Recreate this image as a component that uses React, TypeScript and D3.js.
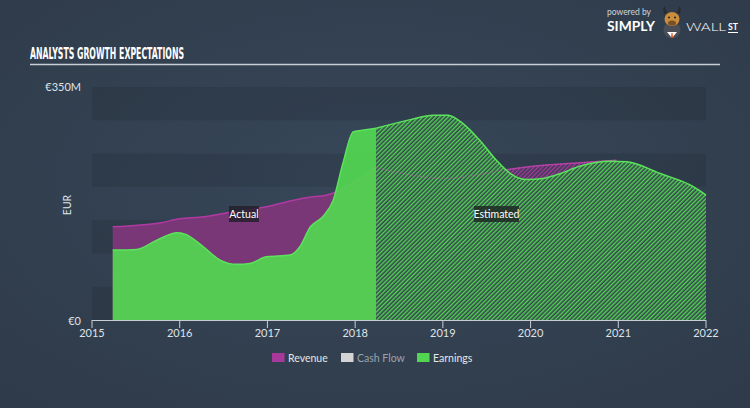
import React from "react";
import * as d3 from "d3";

const W = 750;
const H = 408;

const yearTicks = [2015, 2016, 2017, 2018, 2019, 2020, 2021, 2022];
const bandStarts = [0, 100, 200, 300];

const earnActualYears = [2015.236, 2015.51, 2015.74, 2015.97, 2016.06, 2016.27, 2016.46, 2016.65, 2016.8, 2016.99, 2017.26, 2017.37, 2017.49, 2017.63, 2017.75, 2017.86, 2017.98, 2018.14, 2018.24];
const earnActualVals = [105, 106, 120, 131, 129, 110, 90, 83.6, 85, 95, 97.6, 110, 140, 155, 180, 235, 283, 286, 288];

const earnFcYears = [2018.24, 2018.63, 2018.89, 2019.06, 2019.23, 2019.42, 2019.61, 2019.77, 2019.96, 2020.14, 2020.34, 2020.56, 2020.91, 2021.1, 2021.48, 2021.86, 2022.0];
const earnFcVals = [288, 301, 307.7, 307.7, 295, 270, 240, 220, 211, 212.6, 220, 231, 238.6, 237.6, 220, 200, 187.7];

const revActualYears = [2015.236, 2015.78, 2016.0, 2016.27, 2016.54, 2016.99, 2017.3, 2017.52, 2017.68, 2017.79, 2018.01, 2018.24];
const revActualVals = [140, 146, 152, 155, 161, 170, 180, 185, 187.7, 192.6, 210, 229];

const revFcYears = [2018.24, 2018.63, 2019.0, 2019.39, 2019.69, 2020.03, 2020.53, 2020.98];
const revFcVals = [229, 218, 212.6, 218, 225, 231, 236, 240];

const legendItems = [
  { label: "Revenue", color: "#a8399c", text: "#e6e6e6" },
  { label: "Cash Flow", color: "#d4d4d4", text: "#9aa3ad" },
  { label: "Earnings", color: "#52d652", text: "#e6e6e6" },
];

const x = d3.scaleLinear().domain([2015, 2022]).range([92, 706]);
const y = d3.scaleLinear().domain([0, 350]).range([320, 87]);

type P = [number, number];
const zip = (xs: number[], vs: number[]): P[] => xs.map((v, i) => [v, vs[i]]);

const area = d3
  .area<P>()
  .x((d) => x(d[0]))
  .y0(y(0))
  .y1((d) => y(d[1]))
  .curve(d3.curveMonotoneX);
const line = d3
  .line<P>()
  .x((d) => x(d[0]))
  .y((d) => y(d[1]))
  .curve(d3.curveMonotoneX);

const earnA = zip(earnActualYears, earnActualVals);
const earnF = zip(earnFcYears, earnFcVals);
const revA = zip(revActualYears, revActualVals);
const revF = zip(revFcYears, revFcVals);

const axisFont = "Lato, 'Open Sans', sans-serif";

export default function App() {
  return (
    <svg
      width={W}
      height={H}
      style={{ position: "absolute", left: 0, top: 0, display: "block" }}
    >
      <defs>
        <radialGradient id="bg" cx="50%" cy="45%" r="70%">
          <stop offset="0%" stopColor="#374759" />
          <stop offset="100%" stopColor="#2f3b4a" />
        </radialGradient>
        <pattern id="hatchG" width="3" height="3" patternUnits="userSpaceOnUse" patternTransform="rotate(45)">
          <rect width="3" height="3" fill="#35444f" />
          <rect width="1.4" height="3" fill="#52d652" />
        </pattern>
        <pattern id="hatchM" width="3" height="3" patternUnits="userSpaceOnUse" patternTransform="rotate(45)">
          <rect width="3" height="3" fill="#383c52" />
          <rect width="1.4" height="3" fill="#a8399c" />
        </pattern>
      </defs>
      <rect width={W} height={H} fill="url(#bg)" />

      {/* title */}
      <text
        x={30}
        y={59}
        fill="#ffffff"
        fontFamily="'Liberation Sans Narrow', 'DejaVu Sans Condensed', sans-serif"
        fontWeight="bold"
        fontSize={15}
        textLength={154}
        lengthAdjust="spacingAndGlyphs"
      >
        ANALYSTS GROWTH EXPECTATIONS
      </text>
      <line x1={30} x2={720} y1={64.5} y2={64.5} stroke="#c9ced6" strokeWidth={1.6} />

      {/* logo */}
      <g fontFamily="Lato, 'Open Sans', sans-serif">
        <text x={607} y={15} fill="#cfd4da" fontSize={8.5} textLength={44} lengthAdjust="spacingAndGlyphs">powered by</text>
        <text x={607} y={31} fill="#ffffff" fontSize={12.5} fontWeight="bold" textLength={48} lengthAdjust="spacingAndGlyphs">SIMPLY</text>
        <circle cx={672} cy={30} r={8.5} fill="#4a4f57" />
        <path d="M667,32 L672,38 L677,32 Z" fill="#ffffff" />
        <path d="M671.5,33 L672.5,33 L673,38 L671,38 Z" fill="#d9531e" />
        <ellipse cx={672} cy={19} rx={7.5} ry={7} fill="#c98d3c" />
        <ellipse cx={672} cy={23} rx={4} ry={2.6} fill="#7a4e26" />
        <path d="M664,14 Q662,8 665,6 Q665,11 668,13 Z" fill="#2b2b2b" />
        <path d="M680,14 Q682,8 679,6 Q679,11 676,13 Z" fill="#2b2b2b" />
        <circle cx={669} cy={17.5} r={1} fill="#222" />
        <circle cx={675} cy={17.5} r={1} fill="#222" />
        <text x={686} y={31} fill="#ffffff" fontSize={12.5} fontWeight={300} textLength={40} lengthAdjust="spacingAndGlyphs">WALL</text>
        <text x={728} y={30} fill="#ffffff" fontSize={10} fontWeight="bold" textLength={10} lengthAdjust="spacingAndGlyphs">ST</text>
        <line x1={728} x2={738} y1={32.5} y2={32.5} stroke="#ffffff" strokeWidth={1} />
      </g>

      {/* bands */}
      {bandStarts.map((b) => (
        <rect
          key={b}
          x={x(2015)}
          width={x(2022) - x(2015)}
          y={y(b + 50)}
          height={y(b) - y(b + 50)}
          fill="#000000"
          opacity={0.09}
        />
      ))}

      {/* revenue */}
      <path d={area(revA) || ""} fill="#7a3777" />
      <path d={area(revF) || ""} fill="url(#hatchM)" />
      <path d={line(revA) || ""} fill="none" stroke="#b03aa2" strokeWidth={1.5} />
      <path d={line(revF) || ""} fill="none" stroke="#b03aa2" strokeWidth={1.5} />

      {/* earnings */}
      <path d={area(earnA) || ""} fill="#52d652" opacity={0.93} />
      <path d={area(earnF) || ""} fill="url(#hatchG)" />
      <path d={line(revF) || ""} fill="none" stroke="#c05ab0" strokeWidth={1} strokeDasharray="1.5,1.5" opacity={0.7} />
      <path d={line(earnA) || ""} fill="none" stroke="#5ce35c" strokeWidth={1.5} />
      <path d={line(earnF) || ""} fill="none" stroke="#5ce35c" strokeWidth={1.5} />

      {/* labels */}
      <g fontFamily={axisFont} fontSize={10.5}>
        <rect x={229} y={206} width={30} height={16} fill="#24202c" opacity={0.85} />
        <text x={244} y={218} fill="#ffffff" textAnchor="middle">Actual</text>
        <rect x={474} y={206} width={45} height={16} fill="#1f2a24" opacity={0.85} />
        <text x={496.5} y={218} fill="#ffffff" textAnchor="middle">Estimated</text>
      </g>

      {/* axes */}
      <g fontFamily={axisFont} fontSize={11} fill="#dfe3e8">
        <line x1={x(2015)} x2={x(2022)} y1={320.5} y2={320.5} stroke="#c8cdd4" strokeWidth={1} />
        {yearTicks.map((t) => (
          <g key={t}>
            <line x1={x(t)} x2={x(t)} y1={320} y2={328} stroke="#c8cdd4" strokeWidth={1} />
            <text x={x(t)} y={337} textAnchor="middle">{t}</text>
          </g>
        ))}
        <text x={81} y={91} textAnchor="end">€350M</text>
        <text x={81} y={325} textAnchor="end">€0</text>
        <text transform="translate(71,205) rotate(-90)" textAnchor="middle" fontSize={10.5}>EUR</text>
      </g>

      {/* legend */}
      <g fontFamily={axisFont} fontSize={10.5}>
        {legendItems.map((it, i) => {
          const lx = [272, 341, 417][i];
          return (
            <g key={it.label}>
              <rect x={lx} y={353} width={12.5} height={9} fill={it.color} />
              <text x={lx + 16} y={361.5} fill={it.text}>{it.label}</text>
            </g>
          );
        })}
      </g>
    </svg>
  );
}
